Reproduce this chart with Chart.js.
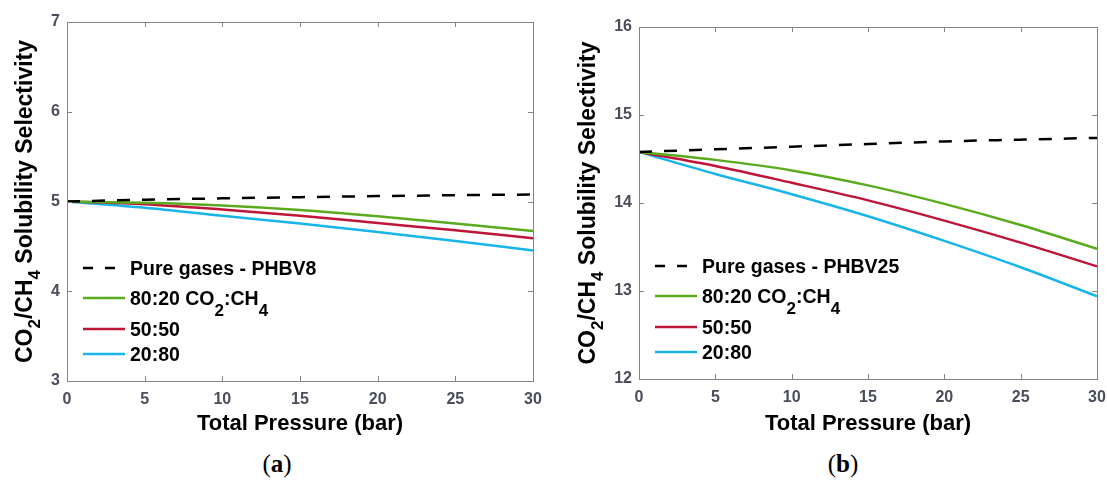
<!DOCTYPE html>
<html>
<head>
<meta charset="utf-8">
<script src="https://cdn.jsdelivr.net/npm/chart.js"></script>
<style>
  body { margin: 0; background: #fff; width: 1107px; height: 483px; position: relative; overflow: hidden; }
  canvas { position: absolute; top: 0; }
  #chartA { left: 0; }
  #chartB { left: 553px; }
  .caption { position: absolute; top: 450px; font-family: "Liberation Serif", "DejaVu Serif", serif; font-size: 25px; color: #000; transform: translateX(-50%); }
</style>
</head>
<body>
<canvas id="chartA" width="553" height="440"></canvas>
<canvas id="chartB" width="554" height="440"></canvas>
<div class="caption" style="left:277px">(<b>a</b>)</div>
<div class="caption" style="left:843px">(<b>b</b>)</div>

<script>
// pressure steps (bar)
const pressure = [0, 5, 10, 15, 20, 25, 30];

// PHBV8
const pureA = [5.00, 5.02, 5.035, 5.048, 5.06, 5.07, 5.078];
const mix8020A = [5.00, 4.985, 4.955, 4.905, 4.835, 4.755, 4.67];
const mix5050A = [5.00, 4.97, 4.91, 4.84, 4.76, 4.68, 4.59];
const mix2080A = [5.00, 4.93, 4.84, 4.755, 4.66, 4.56, 4.455];

// PHBV25
const pureB = [14.58, 14.61, 14.64, 14.67, 14.70, 14.72, 14.74];
const mix8020B = [14.58, 14.49, 14.37, 14.20, 13.99, 13.75, 13.48];
const mix5050B = [14.58, 14.42, 14.23, 14.03, 13.80, 13.55, 13.28];
const mix2080B = [14.58, 14.33, 14.10, 13.85, 13.57, 13.27, 12.94];

// "_2" marks a subscript digit
const labelsA = ['Pure gases - PHBV8', '80:20 CO_2:CH_4', '50:50', '20:80'];
const labelsB = ['Pure gases - PHBV25', '80:20 CO_2:CH_4', '50:50', '20:80'];
const yTitle = 'CO_2/CH_4 Solubility Selectivity';
const xTitle = 'Total Pressure (bar)';

const FONT = '"Liberation Sans", Arial, Helvetica, sans-serif';
const colors = ['#000000', '#5bab1f', '#bf1539', '#17b5ea'];
const boxColor = '#858585';
const tickColor = '#4a4d5a';

function drawRich(ctx, text, x, y, size, subScale, subDrop, center) {
  const segs = text.split(/_(\d)/);
  const main = 'bold ' + size + 'px ' + FONT;
  const sub = 'bold ' + Math.round(size * subScale) + 'px ' + FONT;
  let total = 0;
  segs.forEach((s, i) => { ctx.font = i % 2 ? sub : main; total += ctx.measureText(s).width; });
  let cx = center ? x - total / 2 : x;
  ctx.textAlign = 'left';
  ctx.textBaseline = 'alphabetic';
  segs.forEach((s, i) => {
    ctx.font = i % 2 ? sub : main;
    ctx.fillText(s, cx, i % 2 ? y + size * subDrop : y);
    cx += ctx.measureText(s).width;
  });
}

// box, inward ticks, y title and legend
const framePlugin = {
  id: 'frame',
  afterDraw(chart, args, opts) {
    const { ctx, chartArea: a, scales } = chart;
    ctx.save();
    ctx.strokeStyle = boxColor;
    ctx.lineWidth = 1;
    ctx.strokeRect(a.left + 0.5, a.top + 0.5, a.right - a.left, a.bottom - a.top);
    ctx.beginPath();
    scales.x.ticks.forEach(t => {
      const px = Math.round(scales.x.getPixelForValue(t.value)) + 0.5;
      ctx.moveTo(px, a.bottom); ctx.lineTo(px, a.bottom - 5);
      ctx.moveTo(px, a.top); ctx.lineTo(px, a.top + 5);
    });
    scales.y.ticks.forEach(t => {
      const py = Math.round(scales.y.getPixelForValue(t.value)) + 0.5;
      ctx.moveTo(a.left, py); ctx.lineTo(a.left + 5, py);
      ctx.moveTo(a.right, py); ctx.lineTo(a.right - 5, py);
    });
    ctx.stroke();

    // y axis title
    ctx.fillStyle = '#000';
    ctx.translate(a.left - opts.titleOffset, (a.top + a.bottom) / 2);
    ctx.rotate(-Math.PI / 2);
    drawRich(ctx, yTitle, 0, 8, 23, 0.72, 0.36, true);
    ctx.restore();

    // legend
    const rows = [113, 83, 52, 27];
    ctx.save();
    chart.data.datasets.forEach((ds, i) => {
      const y = a.bottom - rows[i];
      const dashed = ds.borderDash && ds.borderDash.length;
      ctx.strokeStyle = ds.borderColor;
      ctx.lineWidth = 2.5;
      ctx.setLineDash(dashed ? [10, 12] : []);
      ctx.beginPath();
      ctx.moveTo(a.left + 16, y);
      ctx.lineTo(a.left + (dashed ? 48 : 58), y);
      ctx.stroke();
      ctx.setLineDash([]);
      ctx.fillStyle = '#000';
      drawRich(ctx, ds.label, a.left + 63, y + 7, 19.5, 0.85, 0.55, false);
    });
    ctx.restore();
  }
};

function makeChart(id, labels, series, yMin, yMax, pad, axisW, axisH, titleOffset) {
  const datasets = series.map((vals, i) => ({
    label: labels[i],
    data: pressure.map((p, k) => ({ x: p, y: vals[k] })),
    borderColor: colors[i],
    borderWidth: 2.5,
    borderDash: i === 0 ? [13, 12] : [],
    pointRadius: 0,
    cubicInterpolationMode: 'monotone',
    fill: false
  }));
  return new Chart(document.getElementById(id), {
    type: 'line',
    data: { datasets },
    plugins: [framePlugin],
    options: {
      responsive: false,
      animation: false,
      layout: { padding: pad },
      plugins: {
        legend: { display: false },
        tooltip: { enabled: false },
        frame: { titleOffset }
      },
      scales: {
        x: {
          type: 'linear', min: 0, max: 30,
          grid: { display: false, drawTicks: false },
          border: { display: false },
          ticks: { stepSize: 5, padding: 9, color: tickColor, font: { family: FONT, size: 16, weight: 'bold' } },
          title: { display: true, text: xTitle, color: '#000', padding: { top: 0, bottom: 3 }, font: { family: FONT, size: 22, weight: 'bold' } },
          afterFit: s => { s.height = axisH; s.paddingLeft = 0; s.paddingRight = 0; }
        },
        y: {
          min: yMin, max: yMax,
          grid: { display: false, drawTicks: false },
          border: { display: false },
          ticks: { stepSize: 1, padding: 7, color: tickColor, font: { family: FONT, size: 16, weight: 'bold' } },
          afterFit: s => { s.width = axisW; s.paddingTop = 0; s.paddingBottom = 0; }
        }
      }
    }
  });
}

makeChart('chartA', labelsA, [pureA, mix8020A, mix5050A, mix2080A], 3, 7,
  { left: 0, right: 20, top: 22, bottom: 0 }, 67, 59, 43);
makeChart('chartB', labelsB, [pureB, mix8020B, mix5050B, mix2080B], 12, 16,
  { left: 0, right: 10, top: 27, bottom: 0 }, 86, 61, 52);
</script>
</body>
</html>
